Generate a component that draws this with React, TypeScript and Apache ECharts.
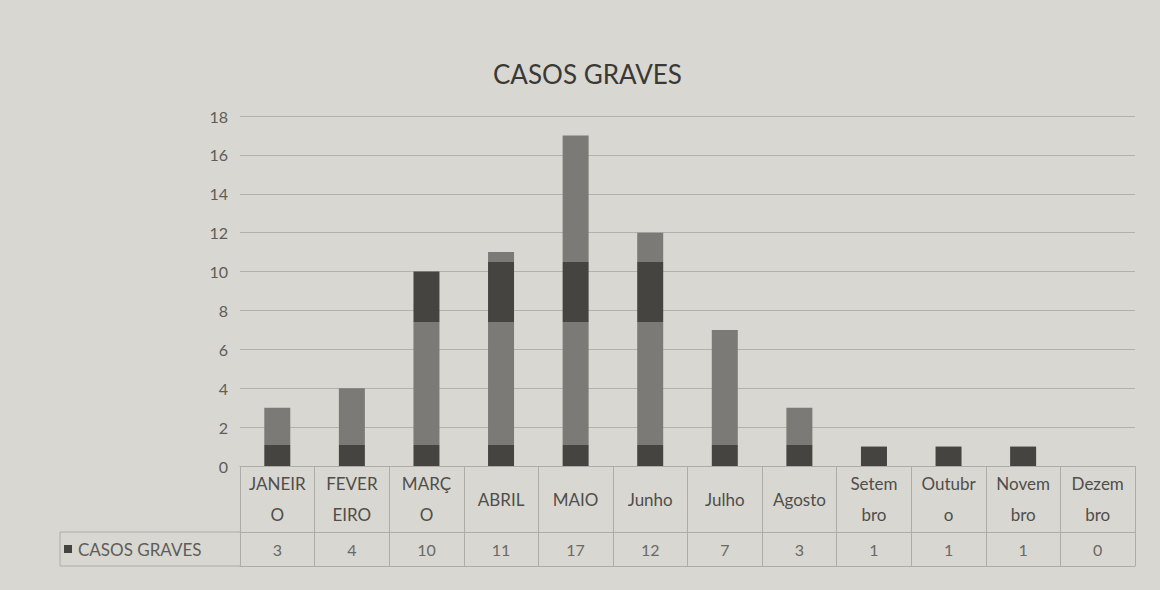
import React, { useEffect, useRef } from "react";
import * as echarts from "echarts";

const months = [
  "JANEIR\nO", "FEVER\nEIRO", "MARÇ\nO", "ABRIL", "MAIO", "Junho",
  "Julho", "Agosto", "Setem\nbro", "Outubr\no", "Novem\nbro", "Dezem\nbro",
];
const casosGraves = [3, 4, 10, 11, 17, 12, 7, 3, 1, 1, 1, 0];
const seriesName = "CASOS GRAVES";
const chartTitle = "CASOS GRAVES";
const yMin = 0;
const yMax = 18;
const yInterval = 2;

const W = 1160;
const H = 590;
const GRID_LEFT = 240;
const GRID_RIGHT = 25;
const GRID_TOP = 116;
const GRID_BOTTOM = 124;
const ROW1 = 66;
const ROW2 = 34;

const FONT = "Lato, 'Open Sans', sans-serif";
const TEXT = "#4f4e4b";
const LINE = "#aeaca7";
const BG = "#d9d7d1";
const MID = "#7c7a76";
const DARK = "#464440";

export default function App() {
  const ref = useRef<HTMLDivElement>(null);
  useEffect(() => {
    if (!ref.current) return;
    const chart = echarts.init(ref.current, undefined, { renderer: "svg" });
    const off = (v: number) => (yMax - v) / (yMax - yMin);
    const gradient = {
      type: "linear",
      x: 0,
      y: GRID_TOP,
      x2: 0,
      y2: H - GRID_BOTTOM,
      global: true,
      colorStops: [
        { offset: 0, color: MID },
        { offset: off(10.5), color: MID },
        { offset: off(10.5), color: DARK },
        { offset: off(7.4), color: DARK },
        { offset: off(7.4), color: MID },
        { offset: off(1.1), color: MID },
        { offset: off(1.1), color: DARK },
        { offset: 1, color: DARK },
      ],
    };
    const rowTop = H - GRID_BOTTOM + ROW1;
    const rowBot = rowTop + ROW2;
    chart.setOption({
      animation: false,
      backgroundColor: BG,
      textStyle: { fontFamily: FONT },
      title: {
        text: chartTitle,
        left: 488,
        top: 56,
        textStyle: { fontFamily: FONT, fontSize: 26, fontWeight: "normal", color: "#3a3936" },
      },
      grid: { left: GRID_LEFT, right: GRID_RIGHT, top: GRID_TOP, bottom: GRID_BOTTOM },
      xAxis: [
        {
          type: "category",
          data: months,
          position: "bottom",
          axisLine: { show: true, lineStyle: { color: LINE } },
          axisTick: { show: true, length: ROW1, interval: 0, lineStyle: { color: LINE } },
          axisLabel: {
            interval: 0,
            margin: 33,
            verticalAlign: "middle",
            fontFamily: FONT,
            fontSize: 17,
            lineHeight: 31,
            color: TEXT,
          },
        },
        {
          type: "category",
          data: casosGraves.map(String),
          position: "bottom",
          offset: ROW1,
          axisLine: { show: true, lineStyle: { color: LINE } },
          axisTick: { show: true, length: ROW2, interval: 0, lineStyle: { color: LINE } },
          axisLabel: {
            interval: 0,
            margin: 17,
            verticalAlign: "middle",
            fontFamily: FONT,
            fontSize: 16,
            color: "#6a6965",
          },
        },
        {
          type: "category",
          data: casosGraves.map(String),
          position: "bottom",
          offset: ROW1 + ROW2,
          axisLine: { show: true, lineStyle: { color: LINE } },
          axisTick: { show: false },
          axisLabel: { show: false },
        },
      ],
      yAxis: {
        type: "value",
        min: yMin,
        max: yMax,
        interval: yInterval,
        axisLine: { show: false },
        axisTick: { show: false },
        axisLabel: { fontFamily: FONT, fontSize: 16, color: "#5e5d59", margin: 12 },
        splitLine: { lineStyle: { color: "#b3b1ac", width: 1.2 } },
      },
      series: [
        {
          name: seriesName,
          type: "bar",
          xAxisIndex: 0,
          data: casosGraves,
          barWidth: 26,
          itemStyle: { color: gradient },
        },
      ],
      graphic: [
        { type: "line", shape: { x1: 60, y1: rowTop, x2: GRID_LEFT, y2: rowTop }, style: { stroke: LINE, lineWidth: 1 } },
        { type: "line", shape: { x1: 60, y1: rowBot, x2: GRID_LEFT, y2: rowBot }, style: { stroke: LINE, lineWidth: 1 } },
        { type: "line", shape: { x1: 60, y1: rowTop, x2: 60, y2: rowBot }, style: { stroke: LINE, lineWidth: 1 } },
        { type: "rect", shape: { x: 64, y: rowTop + ROW2 / 2 - 4, width: 8, height: 8 }, style: { fill: DARK } },
        {
          type: "text",
          x: 78,
          y: rowTop + ROW2 / 2,
          style: { text: seriesName, fontFamily: FONT, fontSize: 17, fill: "#5e5d59", verticalAlign: "middle" },
        },
      ],
    });
    return () => chart.dispose();
  }, []);
  return (
    <div
      ref={ref}
      style={{ position: "absolute", left: 0, top: 0, width: W, height: H }}
    />
  );
}
